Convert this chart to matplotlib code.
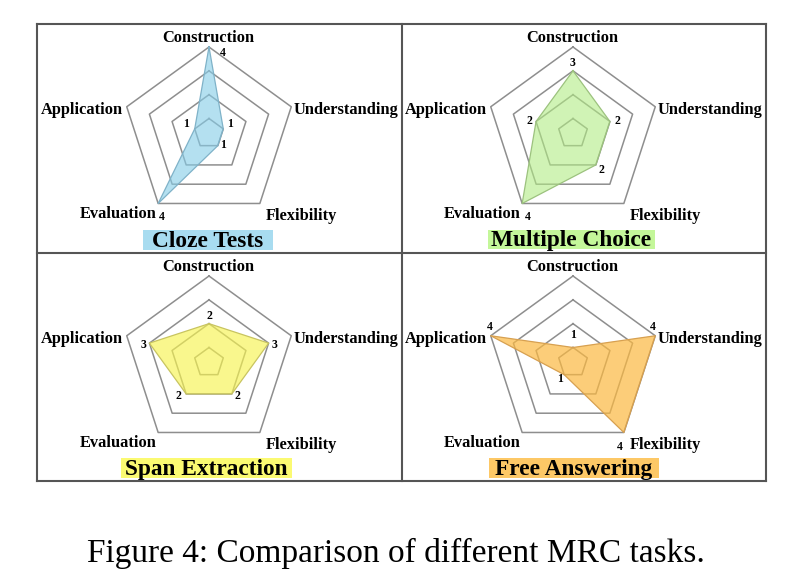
import numpy as np
import matplotlib
matplotlib.use('Agg')
import matplotlib.pyplot as plt
from matplotlib.lines import Line2D
from matplotlib.patches import Rectangle

# ---------------- data ----------------
categories = ['Construction', 'Understanding', 'Flexibility', 'Evaluation', 'Application']
tasks = ['Cloze Tests', 'Multiple Choice', 'Span Extraction', 'Free Answering']
cloze = [4, 1, 1, 4, 1]
multiple_choice = [3, 2, 2, 4, 2]
span_extraction = [2, 3, 2, 2, 3]
free_answering = [1, 4, 4, 1, 4]
ring_levels = [1, 2, 3, 4]
caption = 'Figure 4: Comparison of different MRC tasks.'

series = [cloze, multiple_choice, span_extraction, free_answering]

# ---------------- style / layout ----------------
W, H = 808, 585
fig = plt.figure(figsize=(W / 100, H / 100), dpi=100)
fig.patch.set_facecolor('white')

SERIF = 'Liberation Serif'
R_MIN = 0.37
R_PX = 86.5
centers = [(209, 133.5), (573, 133.5), (209, 362.5), (573, 362.5)]
fill_colors = ['#86cde8', '#b2ec84', '#f7f450', '#fcb941']
fill_alpha = [0.62, 0.6, 0.65, 0.7]
edge_colors = ['#7fb2c8', '#9cc27e', '#c8c460', '#d7a050']
title_colors = ['#a8dcf0', '#c4f79a', '#fbfa72', '#fdc866']
title_boxes = [(208, 130), (571.5, 167), (206, 171), (574, 170)]  # center x, width
title_box_top = [230, 229.5, 458, 458]

cat_offsets = [(-1, -11, 'center'), (2, 1, 'left'), (6, 11, 'left'),
               (-2, 9, 'right'), (-4, 1, 'right')]
val_offsets = [
    [(14, 4), (7, -6), (5, -2), (4, 12), (-9, -6)],
    [(0, -9), (7, -2), (6, 4), (6, 12), (-7, -2)],
    [(0, -9), (6, 0), (6, 1), (-8, 1), (-6, 0)],
    [(0, -14), (-2, -10), (-4, 13), (-4, 3), (-1, -10)],
]

PT = 0.72  # points per pixel at dpi 100
n = len(categories)
theta = np.deg2rad(np.arange(n) * 360.0 / n)
theta_c = np.append(theta, theta[0])

for k in range(4):
    cx, cy = centers[k]
    ax = fig.add_axes([(cx - R_PX) / W, (H - cy - R_PX) / H, 2 * R_PX / W, 2 * R_PX / H],
                      projection='polar')
    ax.set_theta_zero_location('N')
    ax.set_theta_direction(-1)
    ax.set_ylim(R_MIN, 4)
    ax.axis('off')

    for lv in ring_levels:
        ax.plot(theta_c, [lv] * (n + 1), color='#8e8e8e', lw=1.1, clip_on=False, zorder=1)

    vals = series[k]
    vc = list(vals) + [vals[0]]
    ax.fill(theta_c, vc, facecolor=fill_colors[k], alpha=fill_alpha[k],
            edgecolor='none', zorder=2, clip_on=False)
    ax.plot(theta_c, vc, color=edge_colors[k], lw=0.9, zorder=3, clip_on=False)

    for i, cat in enumerate(categories):
        dx, dy, ha = cat_offsets[i]
        ax.annotate(cat, xy=(theta[i], 4), xytext=(dx * PT, -dy * PT),
                    textcoords='offset points', ha=ha, va='center_baseline',
                    fontsize=11.8, fontweight='bold', family=SERIF,
                    annotation_clip=False, zorder=5)
        vdx, vdy = val_offsets[k][i]
        ax.annotate(str(vals[i]), xy=(theta[i], vals[i]), xytext=(vdx * PT, -vdy * PT),
                    textcoords='offset points', ha='center', va='center_baseline',
                    fontsize=8.5, fontweight='bold', family=SERIF,
                    annotation_clip=False, zorder=5)

    # title with coloured background
    tx, tw = title_boxes[k]
    top = title_box_top[k]
    bh = 19.5
    fig.patches.append(Rectangle(((tx - tw / 2) / W, 1 - (top + bh) / H), tw / W, bh / H,
                                 transform=fig.transFigure, facecolor=title_colors[k],
                                 edgecolor='none', zorder=0))
    fig.text(tx / W, 1 - (top + bh - 3) / H, tasks[k], ha='center', va='baseline',
             fontsize=16.8, fontweight='bold', family=SERIF, zorder=6)

# panel borders
xl, xm, xr = 36.7, 401.7, 765.7
yt, ym, yb = 24, 252.7, 481
bc = '#555555'
blw = 1.5
segs = [((xl, xr), (yt, yt)), ((xl, xr), (ym, ym)), ((xl, xr), (yb, yb)),
        ((xl, xl), (yt, yb)), ((xm, xm), (yt, yb)), ((xr, xr), (yt, yb))]
for (xs, ys) in segs:
    fig.add_artist(Line2D([x / W for x in xs], [1 - y / H for y in ys],
                          transform=fig.transFigure, color=bc, lw=blw,
                          solid_capstyle='projecting'))

fig.text(396 / W, 1 - 553 / H, caption, ha='center', va='center',
         fontsize=24, family=SERIF)

fig.savefig('out.png', dpi=100, facecolor='white')
